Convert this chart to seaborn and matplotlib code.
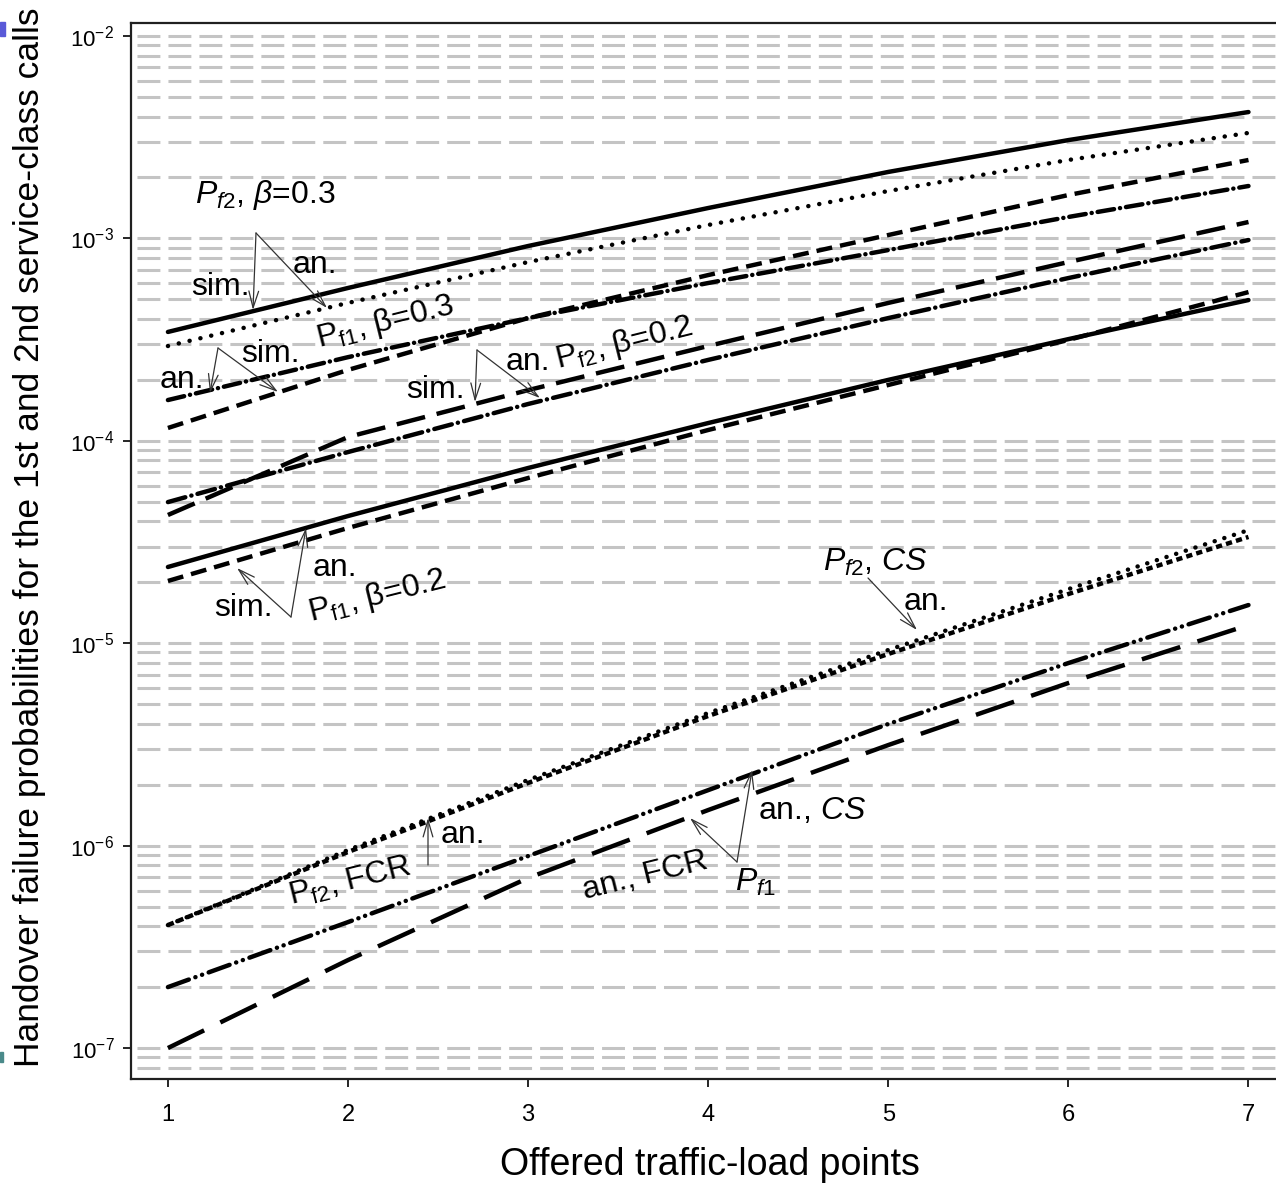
import numpy as np
import pandas as pd
import matplotlib
matplotlib.use("Agg")
import matplotlib.pyplot as plt
import matplotlib.ticker as mticker
from matplotlib.patches import Rectangle
import seaborn as sns

# ---------------- data ----------------
load = [1, 2, 3, 4, 5, 6, 7]

pf2_b03_sim = [3.45e-4, 5.69e-4, 9.17e-4, 1.413e-3, 2.13e-3, 3.06e-3, 4.21e-3]
pf2_b03_an = [2.94e-4, 4.80e-4, 7.64e-4, 1.165e-3, 1.714e-3, 2.44e-3, 3.32e-3]
pf1_b03_an = [1.59e-4, 2.59e-4, 4.04e-4, 6.02e-4, 8.76e-4, 1.276e-3, 1.815e-3]
pf1_b03_sim = [1.157e-4, 2.24e-4, 4.04e-4, 6.59e-4, 1.039e-3, 1.638e-3, 2.44e-3]
pf2_b02_sim = [4.30e-5, 1.044e-4, 1.78e-4, 2.94e-4, 4.80e-4, 7.64e-4, 1.205e-3]
pf2_b02_an = [4.98e-5, 8.80e-5, 1.52e-4, 2.51e-4, 4.04e-4, 6.37e-4, 9.82e-4]
pf1_b02_an = [2.38e-5, 4.25e-5, 7.34e-5, 1.224e-4, 2.00e-4, 3.18e-4, 4.96e-4]
pf1_b02_sim = [2.03e-5, 3.71e-5, 6.55e-5, 1.131e-4, 1.887e-4, 3.15e-4, 5.43e-4]
pf2_cs_an = [4.05e-7, 9.51e-7, 2.11e-6, 4.52e-6, 9.26e-6, 1.85e-5, 3.62e-5]
pf2_fcr_an = [4.05e-7, 9.30e-7, 2.04e-6, 4.37e-6, 8.85e-6, 1.75e-5, 3.35e-5]
pf1_cs_an = [2.00e-7, 4.19e-7, 8.88e-7, 1.88e-6, 3.99e-6, 7.98e-6, 1.544e-5]
pf1_fcr_an = [1.00e-7, 2.72e-7, 6.92e-7, 1.499e-6, 3.14e-6, 6.36e-6, 1.23e-5]

ytick_vals = [1e-7, 1e-6, 1e-5, 1e-4, 1e-3, 1e-2]
ytick_labels = [r"$\mathregular{10^{-7}}$", r"$\mathregular{10^{-6}}$", r"$\mathregular{10^{-5}}$",
                r"$\mathregular{10^{-4}}$", r"$\mathregular{10^{-3}}$", r"$\mathregular{10^{-2}}$"]
xlabel = "Offered traffic-load points"
ylabel = "Handover failure probabilities for the 1st and 2nd service-class calls"

# ---------------- style ----------------
sns.set_style("ticks")
plt.rcParams["font.family"] = ["Liberation Sans", "DejaVu Sans"]
plt.rcParams["mathtext.fontset"] = "custom"
plt.rcParams["mathtext.rm"] = "Liberation Sans"
plt.rcParams["mathtext.it"] = "Liberation Sans:italic"
plt.rcParams["mathtext.bf"] = "Liberation Sans:bold"
plt.rcParams["lines.scale_dashes"] = False
plt.rcParams["text.color"] = "black"

W, H = 1276, 1185
fig = plt.figure(figsize=(W / 100, H / 100), dpi=100)
ax = fig.add_axes([131 / W, 106 / H, 1153.5 / W, 1056 / H])

XMIN, XMAX = 0.795, 7.2
YMIN, YMAX = 10 ** -7.153, 10 ** -1.9358

LW = 3.2
series = [
    (pf2_b03_sim, "-", "butt"),
    (pf2_b03_an, (0, (0.1, 7.9)), "round"),
    (pf1_b03_an, (0, (12, 4.3, 0.1, 4.3)), "round"),
    (pf1_b03_sim, (0, (11.5, 5.8)), "butt"),
    (pf2_b02_sim, (0, (21, 8.6)), "butt"),
    (pf2_b02_an, (0, (13, 4.5, 0.1, 4.5)), "round"),
    (pf1_b02_an, "-", "butt"),
    (pf1_b02_sim, (0, (11.5, 5.8)), "butt"),
    (pf2_cs_an, (0, (0.1, 7.2)), "round"),
    (pf2_fcr_an, (0, (4.5, 3.0)), "butt"),
    (pf1_cs_an, (0, (16, 5, 0.1, 5, 0.1, 5)), "round"),
    (pf1_fcr_an, (0, (29, 13)), "butt"),
]
for vals, ls, cap in series:
    df = pd.DataFrame({"load": load, "p": vals})
    sns.lineplot(data=df, x="load", y="p", ax=ax, color="black", linewidth=LW,
                 linestyle=ls, dash_capstyle=cap, solid_capstyle="round",
                 errorbar=None, zorder=3)

ax.set_yscale("log")
ax.set_xlim(XMIN, XMAX)
ax.set_ylim(YMIN, YMAX)
ax.set_xticks(load)
ax.set_xticklabels([str(v) for v in load])
ax.set_yticks(ytick_vals)
ax.set_yticklabels(ytick_labels)
ax.yaxis.set_minor_locator(mticker.LogLocator(base=10, subs=np.arange(2, 10), numticks=20))
ax.yaxis.set_minor_formatter(mticker.NullFormatter())
ax.tick_params(axis="y", which="minor", length=0)
ax.tick_params(axis="y", which="major", direction="out", length=6, width=1.2, pad=6,
               labelsize=16, colors="black")
ax.tick_params(axis="x", which="major", direction="out", length=6, width=1.2, pad=12,
               labelsize=17, colors="black")
ax.set_axisbelow(True)
ax.grid(False)
ax.yaxis.grid(True, which="both", color="#c4c4c4", linewidth=2.2,
              linestyle=(18, (16.5, 5.8)))
ax.xaxis.grid(False)
for s in ["left", "bottom", "top", "right"]:
    ax.spines[s].set_color("#202020")
    ax.spines[s].set_linewidth(1.6)
ax.set_xlabel("")
ax.set_ylabel("")

fig.text(710 / W, 1 - 1165 / H, xlabel, fontsize=27, ha="center", va="center", color="black")
fig.text(30 / W, 1 - 537 / H, ylabel, fontsize=25.5, ha="center", va="center",
         rotation=90, color="black")

# small marks at the left edge of the picture
fig.patches.append(Rectangle((0, 1 - 36 / H), 5 / W, 14 / H, transform=fig.transFigure,
                             color="#5a5ad8", zorder=5))
fig.patches.append(Rectangle((0, 1 - 1062 / H), 3 / W, 10 / H, transform=fig.transFigure,
                             color="#4a8a8a", zorder=5))


# ---------------- annotations ----------------
def D(px, py):
    x = XMIN + (px - 131) / 1153.5 * (XMAX - XMIN)
    ly = np.log10(YMAX) - (py - 23) / 1056 * (np.log10(YMAX) - np.log10(YMIN))
    return (x, 10 ** ly)


FS = 23
texts = [
    ((265, 195), r"$P_{f2}$, $\it{β}$=0.3", 0),
    ((315, 265), "an.", 0),
    ((220, 287), "sim.", 0),
    ((385, 322), r"$\mathrm{P}_{\mathrm{f1}}$, β=0.3", 14),
    ((270, 354), "sim.", 0),
    ((182, 380), "an.", 0),
    ((435, 390), "sim.", 0),
    ((528, 362), "an.", 0),
    ((624, 343), r"$\mathrm{P}_{\mathrm{f2}}$, β=0.2", 14),
    ((335, 568), "an.", 0),
    ((377, 596), r"$\mathrm{P}_{\mathrm{f1}}$, β=0.2", 14),
    ((243, 608), "sim.", 0),
    ((875, 562), r"$P_{f2}$, $\it{CS}$", 0),
    ((926, 602), "an.", 0),
    ((463, 835), "an.", 0),
    ((350, 882), r"$\mathrm{P}_{\mathrm{f2}}$, FCR", 14),
    ((812, 811), r"an., $\it{CS}$", 0),
    ((645, 876), "an., FCR", 14),
    ((755, 882), r"$P_{f1}$", 0),
]
for (px, py), t, rot in texts:
    ax.text(*D(px, py), t, fontsize=FS, ha="center", va="center", rotation=rot,
            rotation_mode="anchor", color="black", zorder=4)

arrows = [
    ((256, 233), (253, 310)),
    ((256, 233), (327, 308)),
    ((218, 348), (210, 393)),
    ((218, 348), (278, 392)),
    ((477, 350), (475, 402)),
    ((477, 350), (540, 398)),
    ((291, 617), (237, 568)),
    ((291, 617), (306, 528)),
    ((868, 578), (917, 630)),
    ((428, 865), (428, 818)),
    ((737, 862), (690, 818)),
    ((737, 862), (752, 770)),
]
for a, b in arrows:
    ax.annotate("", xy=D(*b), xytext=D(*a),
                arrowprops=dict(arrowstyle="->,head_length=1.2,head_width=0.35",
                                mutation_scale=10, lw=0.9, color="#333333",
                                shrinkA=0, shrinkB=0), zorder=4)

fig.savefig("out.png", dpi=100)
